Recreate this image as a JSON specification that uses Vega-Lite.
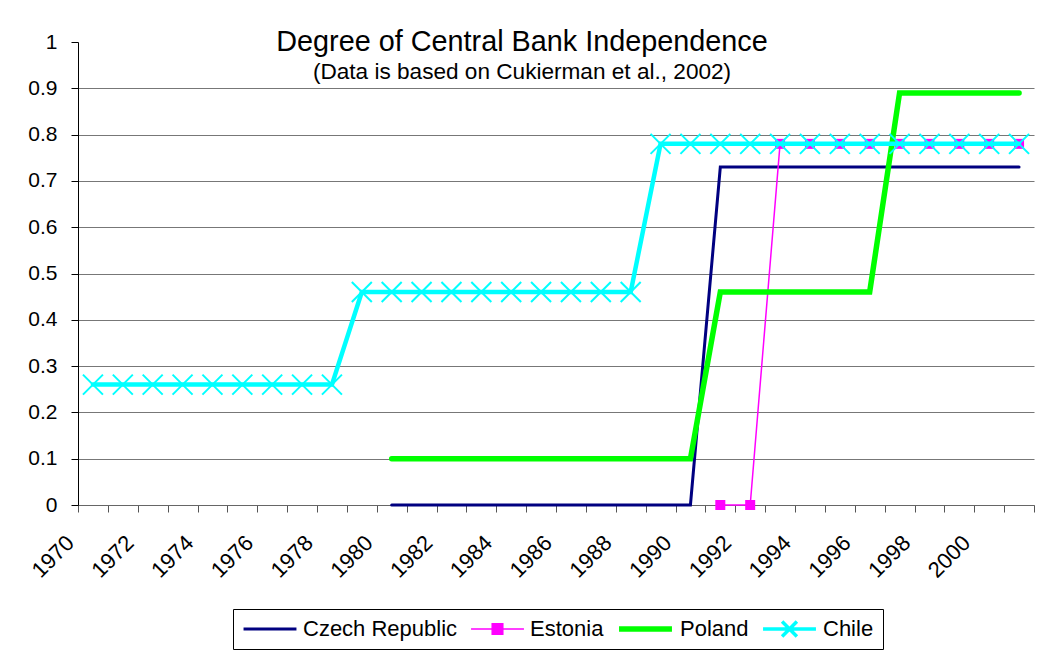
{
  "$schema": "https://vega.github.io/schema/vega-lite/v6.json",
  "autosize": {"type": "none"},
  "width": 956,
  "height": 463,
  "padding": {"left": 78, "top": 42, "right": 6, "bottom": 149},
  "background": "white",
  "config": {"view": {"stroke": null}, "font": "Liberation Sans"},
  "title": {
    "text": "Degree of Central Bank Independence",
    "subtitle": "(Data is based on Cukierman et al., 2002)",
    "font": "Liberation Sans",
    "subtitleFont": "Liberation Sans",
    "fontSize": 28.8,
    "subtitleFontSize": 22.6,
    "fontWeight": "normal",
    "color": "black",
    "subtitleColor": "black",
    "anchor": "middle",
    "frame": "group",
    "dx": -34,
    "offset": -53,
    "subtitlePadding": 5
  },
  "data": {
    "values": [
      {"year": 1980, "country": "Czech Republic", "value": 0},
      {"year": 1981, "country": "Czech Republic", "value": 0},
      {"year": 1982, "country": "Czech Republic", "value": 0},
      {"year": 1983, "country": "Czech Republic", "value": 0},
      {"year": 1984, "country": "Czech Republic", "value": 0},
      {"year": 1985, "country": "Czech Republic", "value": 0},
      {"year": 1986, "country": "Czech Republic", "value": 0},
      {"year": 1987, "country": "Czech Republic", "value": 0},
      {"year": 1988, "country": "Czech Republic", "value": 0},
      {"year": 1989, "country": "Czech Republic", "value": 0},
      {"year": 1990, "country": "Czech Republic", "value": 0},
      {"year": 1991, "country": "Czech Republic", "value": 0.73},
      {"year": 1992, "country": "Czech Republic", "value": 0.73},
      {"year": 1993, "country": "Czech Republic", "value": 0.73},
      {"year": 1994, "country": "Czech Republic", "value": 0.73},
      {"year": 1995, "country": "Czech Republic", "value": 0.73},
      {"year": 1996, "country": "Czech Republic", "value": 0.73},
      {"year": 1997, "country": "Czech Republic", "value": 0.73},
      {"year": 1998, "country": "Czech Republic", "value": 0.73},
      {"year": 1999, "country": "Czech Republic", "value": 0.73},
      {"year": 2000, "country": "Czech Republic", "value": 0.73},
      {"year": 2001, "country": "Czech Republic", "value": 0.73},
      {"year": 1991, "country": "Estonia", "value": 0},
      {"year": 1992, "country": "Estonia", "value": 0},
      {"year": 1993, "country": "Estonia", "value": 0.78},
      {"year": 1994, "country": "Estonia", "value": 0.78},
      {"year": 1995, "country": "Estonia", "value": 0.78},
      {"year": 1996, "country": "Estonia", "value": 0.78},
      {"year": 1997, "country": "Estonia", "value": 0.78},
      {"year": 1998, "country": "Estonia", "value": 0.78},
      {"year": 1999, "country": "Estonia", "value": 0.78},
      {"year": 2000, "country": "Estonia", "value": 0.78},
      {"year": 2001, "country": "Estonia", "value": 0.78},
      {"year": 1980, "country": "Poland", "value": 0.1},
      {"year": 1981, "country": "Poland", "value": 0.1},
      {"year": 1982, "country": "Poland", "value": 0.1},
      {"year": 1983, "country": "Poland", "value": 0.1},
      {"year": 1984, "country": "Poland", "value": 0.1},
      {"year": 1985, "country": "Poland", "value": 0.1},
      {"year": 1986, "country": "Poland", "value": 0.1},
      {"year": 1987, "country": "Poland", "value": 0.1},
      {"year": 1988, "country": "Poland", "value": 0.1},
      {"year": 1989, "country": "Poland", "value": 0.1},
      {"year": 1990, "country": "Poland", "value": 0.1},
      {"year": 1991, "country": "Poland", "value": 0.46},
      {"year": 1992, "country": "Poland", "value": 0.46},
      {"year": 1993, "country": "Poland", "value": 0.46},
      {"year": 1994, "country": "Poland", "value": 0.46},
      {"year": 1995, "country": "Poland", "value": 0.46},
      {"year": 1996, "country": "Poland", "value": 0.46},
      {"year": 1997, "country": "Poland", "value": 0.89},
      {"year": 1998, "country": "Poland", "value": 0.89},
      {"year": 1999, "country": "Poland", "value": 0.89},
      {"year": 2000, "country": "Poland", "value": 0.89},
      {"year": 2001, "country": "Poland", "value": 0.89},
      {"year": 1970, "country": "Chile", "value": 0.26},
      {"year": 1971, "country": "Chile", "value": 0.26},
      {"year": 1972, "country": "Chile", "value": 0.26},
      {"year": 1973, "country": "Chile", "value": 0.26},
      {"year": 1974, "country": "Chile", "value": 0.26},
      {"year": 1975, "country": "Chile", "value": 0.26},
      {"year": 1976, "country": "Chile", "value": 0.26},
      {"year": 1977, "country": "Chile", "value": 0.26},
      {"year": 1978, "country": "Chile", "value": 0.26},
      {"year": 1979, "country": "Chile", "value": 0.46},
      {"year": 1980, "country": "Chile", "value": 0.46},
      {"year": 1981, "country": "Chile", "value": 0.46},
      {"year": 1982, "country": "Chile", "value": 0.46},
      {"year": 1983, "country": "Chile", "value": 0.46},
      {"year": 1984, "country": "Chile", "value": 0.46},
      {"year": 1985, "country": "Chile", "value": 0.46},
      {"year": 1986, "country": "Chile", "value": 0.46},
      {"year": 1987, "country": "Chile", "value": 0.46},
      {"year": 1988, "country": "Chile", "value": 0.46},
      {"year": 1989, "country": "Chile", "value": 0.78},
      {"year": 1990, "country": "Chile", "value": 0.78},
      {"year": 1991, "country": "Chile", "value": 0.78},
      {"year": 1992, "country": "Chile", "value": 0.78},
      {"year": 1993, "country": "Chile", "value": 0.78},
      {"year": 1994, "country": "Chile", "value": 0.78},
      {"year": 1995, "country": "Chile", "value": 0.78},
      {"year": 1996, "country": "Chile", "value": 0.78},
      {"year": 1997, "country": "Chile", "value": 0.78},
      {"year": 1998, "country": "Chile", "value": 0.78},
      {"year": 1999, "country": "Chile", "value": 0.78},
      {"year": 2000, "country": "Chile", "value": 0.78},
      {"year": 2001, "country": "Chile", "value": 0.78}
    ]
  },
  "encoding": {
    "x": {
      "field": "year",
      "type": "ordinal",
      "bandPosition": 0.5,
      "scale": {
        "type": "band",
        "domain": [1970, 1971, 1972, 1973, 1974, 1975, 1976, 1977, 1978, 1979, 1980, 1981, 1982, 1983, 1984, 1985, 1986, 1987, 1988, 1989, 1990, 1991, 1992, 1993, 1994, 1995, 1996, 1997, 1998, 1999, 2000, 2001],
        "paddingInner": 0,
        "paddingOuter": 0
      },
      "axis": {
        "title": null,
        "grid": false,
        "tickBand": "extent",
        "tickSize": 7,
        "tickColor": "#555555",
        "domainColor": "#666666",
        "labelAngle": -45,
        "labelAlign": "right",
        "labelBaseline": "middle",
        "labelOffset": -23,
        "labelPadding": 27,
        "labelFont": "Liberation Sans",
        "labelFontSize": 22,
        "labelColor": "black",
        "labelOverlap": false,
        "labelExpr": "datum.value % 2 === 0 ? datum.value : ''"
      }
    },
    "y": {
      "field": "value",
      "type": "quantitative",
      "scale": {"domain": [0, 1], "nice": false, "zero": true},
      "axis": {
        "title": null,
        "values": [0, 0.1, 0.2, 0.3, 0.4, 0.5, 0.6, 0.7, 0.8, 0.9, 1],
        "format": ".1~f",
        "grid": true,
        "gridColor": "#777777",
        "gridOpacity": {"condition": {"test": "datum.value === 1", "value": 0}, "value": 1},
        "tickSize": 7,
        "tickColor": "black",
        "domainColor": "black",
        "labelPadding": 14,
        "labelFont": "Liberation Sans",
        "labelFontSize": 21,
        "labelColor": "black"
      }
    },
    "color": {
      "field": "country",
      "type": "nominal",
      "scale": {
        "domain": ["Czech Republic", "Estonia", "Poland", "Chile"],
        "range": ["#000080", "#FF00FF", "#00FF00", "#00FFFF"]
      },
      "legend": {
        "title": null,
        "orient": "none",
        "legendX": 155,
        "legendY": 567,
        "direction": "horizontal",
        "symbolType": "stroke",
        "symbolSize": 2800,
        "symbolStrokeWidth": 3,
        "symbolOpacity": 1,
        "clipHeight": 22,
        "labelFont": "Liberation Sans",
        "labelFontSize": 22,
        "labelColor": "black",
        "labelOffset": 5,
        "columnPadding": 12,
        "strokeColor": "black",
        "padding": 9
      }
    }
  },
  "layer": [
    {
      "transform": [{"filter": "datum.country === 'Czech Republic'"}],
      "mark": {"type": "line", "strokeWidth": 3, "strokeCap": "round"}
    },
    {
      "transform": [{"filter": "datum.country === 'Estonia'"}],
      "mark": {"type": "line", "strokeWidth": 1.5}
    },
    {
      "transform": [{"filter": "datum.country === 'Estonia'"}],
      "mark": {"type": "point", "shape": "square", "filled": true, "size": 100, "opacity": 1}
    },
    {
      "transform": [{"filter": "datum.country === 'Poland'"}],
      "mark": {"type": "line", "strokeWidth": 5.5, "strokeCap": "round"}
    },
    {
      "transform": [{"filter": "datum.country === 'Chile'"}],
      "mark": {"type": "line", "strokeWidth": 4.5, "strokeCap": "round"}
    },
    {
      "transform": [{"filter": "datum.country === 'Chile'"}],
      "mark": {"type": "point", "shape": "M-1,-1L1,1M-1,1L1,-1", "filled": false, "size": 400, "strokeWidth": 2, "opacity": 1}
    },
    {
      "transform": [{"filter": "false"}],
      "mark": {"type": "point", "filled": false, "opacity": 1},
      "encoding": {
        "shape": {
          "field": "country",
          "type": "nominal",
          "scale": {
            "domain": ["Czech Republic", "Estonia", "Poland", "Chile"],
            "range": ["M-1,0H1", "M-1,0H1M-0.2,-0.2H0.2V0.2H-0.2Z", "M-1,0H1", "M-1,0H1M-0.28,-0.28L0.28,0.28M-0.28,0.28L0.28,-0.28"]
          },
          "legend": {
            "title": null,
            "orient": "none",
            "legendX": 155,
            "legendY": 567,
            "direction": "horizontal",
            "symbolSize": 2800,
            "symbolOpacity": 1,
            "clipHeight": 22,
            "labelFont": "Liberation Sans",
            "labelFontSize": 22,
            "labelColor": "black",
            "labelOffset": 5,
            "columnPadding": 12,
            "strokeColor": "black",
            "padding": 9
          }
        },
        "strokeWidth": {
          "field": "country",
          "type": "nominal",
          "scale": {
            "type": "ordinal",
            "domain": ["Czech Republic", "Estonia", "Poland", "Chile"],
            "range": [3, 1.5, 5.5, 3.5]
          },
          "legend": {
            "title": null,
            "orient": "none",
            "legendX": 155,
            "legendY": 567,
            "direction": "horizontal",
            "symbolSize": 2800,
            "symbolOpacity": 1,
            "clipHeight": 22,
            "labelFont": "Liberation Sans",
            "labelFontSize": 22,
            "labelColor": "black",
            "labelOffset": 5,
            "columnPadding": 12,
            "strokeColor": "black",
            "padding": 9
          }
        }
      }
    }
  ]
}
